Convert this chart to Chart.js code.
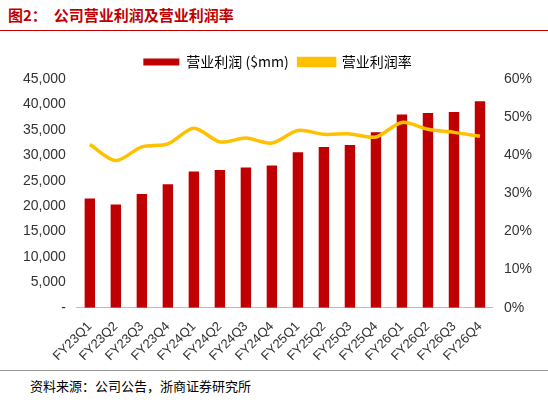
<!DOCTYPE html>
<html><head><meta charset="utf-8">
<script src="https://cdn.jsdelivr.net/npm/chart.js@4"></script>
<style>
body{margin:0;width:548px;height:403px;background:#fff;font-family:"Noto Sans CJK SC",sans-serif;position:relative;overflow:hidden}
#t{position:absolute;left:8px;top:4px;color:#c00000;font-size:15px;font-weight:bold}
#l1{position:absolute;left:0;top:30px;width:548px;border-top:1.5px solid #c00000}
#f{position:absolute;left:30px;top:376px;font-size:13px;color:#000}
#l2{position:absolute;left:0;top:370px;width:548px;border-top:1px solid #999}
#w{position:absolute;left:20px;top:45px;width:515px;height:322px}
</style></head><body>
<div id="t">图2：&nbsp;&nbsp;公司营业利润及营业利润率</div><div id="l1"></div>
<div id="w"><canvas id="c"></canvas></div>
<div id="l2"></div><div id="f">资料来源：公司公告，浙商证券研究所</div>
<script>
const categories=["FY23Q1","FY23Q2","FY23Q3","FY23Q4","FY24Q1","FY24Q2","FY24Q3","FY24Q4","FY25Q1","FY25Q2","FY25Q3","FY25Q4","FY26Q1","FY26Q2","FY26Q3","FY26Q4"];
const profit=[21500,20300,22400,24300,26800,27100,27600,28000,30600,31600,32000,34500,38000,38300,38500,40600];
const margin=[42.8,38.6,42.2,43.0,47.1,43.5,44.5,43.2,46.5,45.5,45.6,44.8,48.6,46.8,46.0,45.0];
new Chart(document.getElementById('c'),{
data:{labels:categories,datasets:[
{type:'line',label:'营业利润率',data:margin,yAxisID:'y1',borderColor:'#ffc000',backgroundColor:'#ffc000',borderWidth:3.5,pointRadius:0,tension:0.3,order:0},
{type:'bar',label:'营业利润 ($mm)',data:profit,yAxisID:'y',backgroundColor:'#c00000',barPercentage:0.4,categoryPercentage:1,order:1}
]},
options:{responsive:true,maintainAspectRatio:false,animation:false,
plugins:{legend:{reverse:true,labels:{boxWidth:36,boxHeight:7,font:{size:14,family:"Noto Sans CJK SC"},color:'#000'}}},
scales:{
x:{grid:{display:false},border:{color:'#bbb'},ticks:{autoSkip:false,maxRotation:45,minRotation:45,font:{size:13,family:"Liberation Sans"},color:'#333'}},
y:{min:0,max:45000,ticks:{stepSize:5000,font:{size:14,family:"Liberation Sans"},color:'#333',callback:v=>v===0?'-':v.toLocaleString('en-US')},grid:{display:false},border:{display:false}},
y1:{position:'right',min:0,max:60,ticks:{stepSize:10,font:{size:14,family:"Liberation Sans"},color:'#333',callback:v=>v+'%'},grid:{display:false},border:{display:false}}
}}});
</script></body></html>
